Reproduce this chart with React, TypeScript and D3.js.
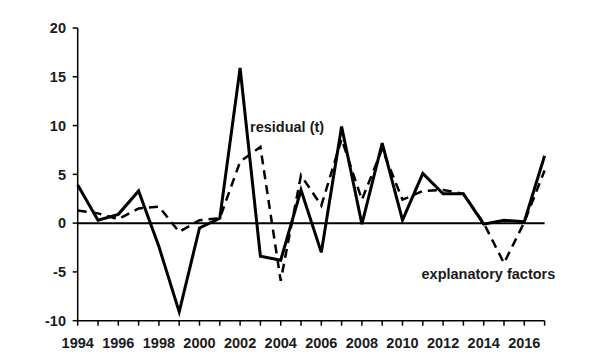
import React from "react";
import * as d3 from "d3";

const years = d3.range(1994, 2018);
const residual = [3.9, 0.3, 0.9, 3.3, -2.4, -9.1, -0.5, 0.5, 15.9, -3.4, -3.8, 3.4, -3.0, 9.9, -0.1, 8.2, 0.3, 5.1, 3.0, 3.0, -0.1, 0.3, 0.15, 6.9];
const explanatory = [1.3, 1.0, 0.4, 1.5, 1.7, -0.9, 0.3, 0.5, 6.3, 7.8, -5.9, 4.9, 1.8, 8.6, 2.4, 7.6, 2.4, 3.3, 3.4, 3.0, 0.0, -4.1, 0.1, 5.4];
const yTicks = [-10, -5, 0, 5, 10, 15, 20];
const xLabels = [1994, 1996, 1998, 2000, 2002, 2004, 2006, 2008, 2010, 2012, 2014, 2016];

export default function App() {
  const x = d3.scaleLinear().domain([1994, 2017]).range([77.7, 544.6]);
  const y = d3.scaleLinear().domain([-10, 20]).range([320.7, 28]);
  const line = d3
    .line<number>()
    .x((_, i) => x(years[i]))
    .y((d) => y(d));
  const font = "'Liberation Sans', Arial, sans-serif";
  return (
    <svg
      width={600}
      height={360}
      style={{ position: "absolute", left: 0, top: 0, background: "#fff" }}
    >
      <rect width={600} height={360} fill="#fff" />
      {/* y axis */}
      <line x1={x(1994)} x2={x(1994)} y1={y(20)} y2={y(-10)} stroke="#000" strokeWidth={1.5} />
      {yTicks.map((t) => (
        <g key={t}>
          <line x1={x(1994) - 5} x2={x(1994)} y1={y(t)} y2={y(t)} stroke="#000" strokeWidth={1.5} />
          <text
            x={66}
            y={y(t)}
            dy="0.36em"
            textAnchor="end"
            fontFamily={font}
            fontWeight="bold"
            fontSize={14.5}
            fill="#1a1a1a"
          >
            {t}
          </text>
        </g>
      ))}
      {/* x axis */}
      <line x1={x(1994)} x2={x(2017)} y1={y(-10)} y2={y(-10)} stroke="#000" strokeWidth={1.5} />
      {years.map((yr) => (
        <line key={yr} x1={x(yr)} x2={x(yr)} y1={y(-10)} y2={y(-10) + 5} stroke="#000" strokeWidth={1.5} />
      ))}
      {xLabels.map((yr) => (
        <text
          key={yr}
          x={x(yr)}
          y={348}
          textAnchor="middle"
          fontFamily={font}
          fontWeight="bold"
          fontSize={14.5}
          fill="#1a1a1a"
        >
          {yr}
        </text>
      ))}
      {/* zero line */}
      <line x1={x(1994)} x2={x(2017)} y1={y(0)} y2={y(0)} stroke="#000" strokeWidth={2} />
      {/* series */}
      <path d={line(explanatory) || ""} fill="none" stroke="#000" strokeWidth={2.5} strokeDasharray="9,6" />
      <path d={line(residual) || ""} fill="none" stroke="#000" strokeWidth={3} strokeLinejoin="miter" />
      <text x={250} y={131.5} fontFamily={font} fontWeight="bold" fontSize={14.5} fill="#1a1a1a">
        residual (t)
      </text>
      <text x={421.5} y={278.5} fontFamily={font} fontWeight="bold" fontSize={14.5} fill="#1a1a1a">
        explanatory factors
      </text>
    </svg>
  );
}
